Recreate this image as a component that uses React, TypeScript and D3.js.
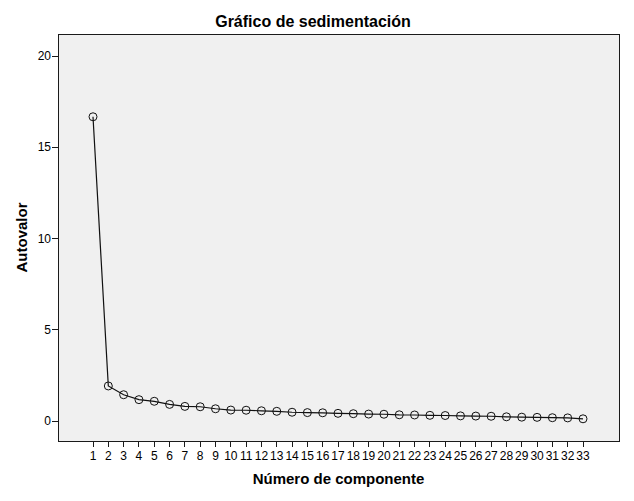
import * as d3 from 'd3'

const componentes = d3.range(1, 34)
const autovalores = [
  16.67, 1.92, 1.44, 1.17, 1.08, 0.91, 0.8, 0.78, 0.67, 0.6, 0.59,
  0.56, 0.53, 0.48, 0.46, 0.45, 0.42, 0.4, 0.38, 0.37, 0.34, 0.33,
  0.31, 0.3, 0.28, 0.27, 0.26, 0.23, 0.21, 0.2, 0.18, 0.17, 0.12,
]
const yTicks = [0, 5, 10, 15, 20]

const WIDTH = 634
const HEIGHT = 501
const PLOT = { LEFT: 58, TOP: 34, RIGHT: 619, BOTTOM: 441 }
const FONT = "'Liberation Sans', Arial, sans-serif"

const App = () => {
  // x: tick 1 at ~93px, tick 33 at ~583px
  const x = d3.scaleLinear().domain([1, 33]).range([93, 583])
  const y = d3.scaleLinear().domain([0, 20]).range([421, 56])

  const line = d3.line<number>()
    .x((d, i) => x(componentes[i]))
    .y((d) => y(d))

  return <svg width={WIDTH} height={HEIGHT}
    style={{ position: 'absolute', left: 0, top: 0, background: '#fff' }}
    fontFamily={FONT}>
    <text x={313} y={27} textAnchor="middle" fontSize={16} fontWeight="bold">
      Gráfico de sedimentación
    </text>

    <rect x={PLOT.LEFT} y={PLOT.TOP} width={PLOT.RIGHT - PLOT.LEFT} height={PLOT.BOTTOM - PLOT.TOP}
      fill="#f0f0f0" stroke="#1a1a1a" strokeWidth={1} shapeRendering="crispEdges" />

    {/* y axis */}
    {yTicks.map((t) => <g key={t}>
      <line x1={PLOT.LEFT - 6} x2={PLOT.LEFT} y1={y(t)} y2={y(t)} stroke="#1a1a1a" shapeRendering="crispEdges" />
      <text x={PLOT.LEFT - 7} y={y(t)} dy="0.35em" textAnchor="end" fontSize={12}>{t}</text>
    </g>)}
    <text transform={`translate(27, ${(PLOT.TOP + PLOT.BOTTOM) / 2}) rotate(-90)`}
      textAnchor="middle" fontSize={15} fontWeight="bold">Autovalor</text>

    {/* x axis */}
    {componentes.map((c) => <g key={c}>
      <line x1={x(c)} x2={x(c)} y1={PLOT.BOTTOM} y2={PLOT.BOTTOM + 6} stroke="#1a1a1a" shapeRendering="crispEdges" />
      <text x={x(c)} y={456} dy="0.35em" textAnchor="middle" fontSize={12}>{c}</text>
    </g>)}
    <text x={(PLOT.LEFT + PLOT.RIGHT) / 2} y={484} textAnchor="middle" fontSize={15} fontWeight="bold">
      Número de componente
    </text>

    <path d={line(autovalores) ?? ''} fill="none" stroke="#111" strokeWidth={1.2} />
    {autovalores.map((v, i) => <circle key={i} cx={x(componentes[i])} cy={y(v)} r={4}
      fill="none" stroke="#111" strokeWidth={1} />)}
  </svg>
}

export default App
